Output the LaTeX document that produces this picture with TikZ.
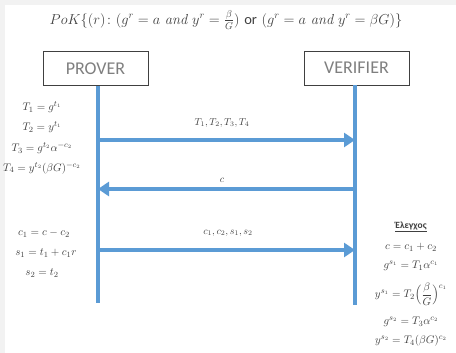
\documentclass[tikz,border=0pt]{standalone}
\usepackage{fontspec}
\setsansfont{Carlito}
\usepackage{amsmath}
\usetikzlibrary{arrows.meta}
\definecolor{msgblue}{HTML}{5B9BD5}
\definecolor{boxgray}{HTML}{7F7F7F}
\definecolor{inkgray}{HTML}{404040}
\begin{document}
\begin{tikzpicture}[x=1pt, y=-1pt,
    party/.style={draw=inkgray, line width=0.8pt, minimum width=105pt, minimum height=34pt,
      text=boxgray, font=\sffamily\fontsize{18}{20}\selectfont},
    lifeline/.style={msgblue, line width=4pt},
    msg/.style={msgblue, line width=4pt, -{Triangle[length=11pt, width=14pt]}},
    eq/.style={text=inkgray, font=\fontsize{11}{12}\selectfont, inner sep=0pt},
    msglabel/.style={text=inkgray, font=\fontsize{10}{11}\selectfont, inner sep=1pt}]

    % Frame
    \useasboundingbox (0,0) rectangle (456,353);
    \fill[black!5] (0,0) rectangle (456,353);
    \fill[white] (5,5) rectangle (456,353);

    % Title
    \node[text=inkgray, font=\fontsize{14.5}{17}\selectfont] (title) at (226,20)
      {$PoK\{(r)\colon (g^r = a\ \mathit{and}\ y^r = \tfrac{\beta}{G})\ \textsf{or}\ (g^r = a\ \mathit{and}\ y^r = \beta G)\}$};

    % Parties
    \node[party] (prover) at (95.5,68.5) {PROVER};
    \node[party] (verifier) at (356.5,68) {VERIFIER};

    % Lifelines
    \coordinate (pend) at (98,303);
    \coordinate (vend) at (355,305);
    \draw[lifeline] (prover.south -| pend) -- (pend);
    \draw[lifeline] (verifier.south -| vend) -- (vend);

    % Messages
    \coordinate (p1) at (98,140);  \coordinate (v1) at (355,140);
    \coordinate (p2) at (98,189);  \coordinate (v2) at (355,189);
    \coordinate (p3) at (98,250);  \coordinate (v3) at (355,250);
    \draw[msg] (p1) -- (v1);
    \draw[msg] (v2) -- (p2);
    \draw[msg] (p3) -- (v3);
    \node[msglabel] (m1) at (222,123) {$T_1, T_2, T_3, T_4$};
    \node[msglabel] (m2) at (222,180) {$c$};
    \node[msglabel] (m3) at (228,233) {$c_1, c_2, s_1, s_2$};

    % Prover commitments
    \node[eq] (t1) at (42,107) {$T_1 = g^{t_1}$};
    \node[eq] (t2) at (42,127) {$T_2 = y^{t_1}$};
    \node[eq] (t3) at (42,148) {$T_3 = g^{t_2}\alpha^{-c_2}$};
    \node[eq] (t4) at (42,168) {$T_4 = y^{t_2}(\beta G)^{-c_2}$};

    % Prover responses
    \node[eq] (r1) at (44,233) {$c_1 = c - c_2$};
    \node[eq] (r2) at (46,253) {$s_1 = t_1 + c_1 r$};
    \node[eq] (r3) at (42,273) {$s_2 = t_2$};

    % Verifier checks
    \node[text=inkgray, font=\sffamily\bfseries\fontsize{9.5}{11}\selectfont] (chk) at (411,227) {\underline{Έλεγχος}};
    \node[eq] (k1) at (411,247) {$c = c_1 + c_2$};
    \node[eq] (k2) at (411,266) {$g^{s_1} = T_1\alpha^{c_1}$};
    \node[eq] (k3) at (411,294) {$y^{s_1} = T_2\Bigl(\dfrac{\beta}{G}\Bigr)^{c_1}$};
    \node[eq] (k4) at (411,322) {$g^{s_2} = T_3\alpha^{c_2}$};
    \node[eq] (k5) at (411,341) {$y^{s_2} = T_4(\beta G)^{c_2}$};

\end{tikzpicture}
\end{document}
